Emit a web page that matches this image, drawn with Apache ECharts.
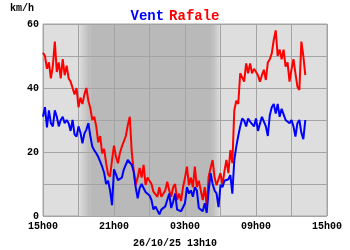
<!DOCTYPE html>
<html><head><meta charset="utf-8">
<script src="https://cdn.jsdelivr.net/npm/echarts@6/dist/echarts.min.js"></script>
<style>html,body{margin:0;padding:0;background:#fff}#c{width:350px;height:250px}</style>
</head><body><div id="c"></div>
<script>
// sampling: every 10 minutes starting 15h00 (minutes since 15h00)
const stepMinutes = 10;
const xTickLabels = ['15h00','21h00','03h00','09h00','15h00'];
const yTickLabels = ['0','20','40','60'];
const seriesNames = ['Vent','Rafale'];
const stamp = '26/10/25 13h10';
const nightBands = [[180, 240], [240, 855], [855, 900]]; // minutes since 15h00

const rafale = [51,50,46,48,43,47,54.5,45,48,43,49,44,47,43,42,40,38,40,34,37,
35,38,40,36,33.7,30,31,28,23,25,19.6,21,16.5,13,12.3,17.5,22,18.5,16.5,19.7,
21.7,22,25,28.4,31,20,14,9.7,12,15,12,16,9.7,12,12,10,7.6,8,6,9,
6,5.6,8,10.7,8,6,9,10,5,7,4.7,9,12,15.4,9.6,12,9,15.4,9,11,
8,5,9,3,12.3,15,17.5,12,9.6,9.7,13.4,9.6,14,17.5,13.4,20.6,16.5,33,36,35,
44.6,45,42,47.7,44.6,47.7,44.6,46,45.8,44,42,44,45.7,42.5,48,49,50.8,55,58,50,
52,49,52,46.7,48,42,45.8,49,44.6,40.4,39.4,54.5,50,44];

const vent = [31,34,27.7,33,29,28,33,31,28,30,31,29,30,29,26.6,30,25.5,24.8,28,26,
22.7,25.8,27,29,25,21.7,20.5,19.6,18.5,17,15.4,13.5,10,11,8,3.4,14.6,13,11.2,11.5,
12,14.6,15,17.5,17.2,16,13.8,9,5.5,8.7,10,10.5,7.5,7.3,6.4,5,2,3,2.4,0.5,
2,2.5,3,5,7,2.5,4.5,7,2,1.5,1.5,2,4,9,7,8,6,9,8,2.5,
3,1.5,4,1,8,13.4,10,8,7,2.8,9.7,9,11,10.5,11.5,12.8,7,17.5,21.7,25,
28,30.5,29.8,28,30.5,29.5,29,28,30.5,26.6,26,31,31.5,28,25,31.5,34,35,32,35,
31,33.5,33,30,30.5,29,30,28,24.8,29,30,26,24,30];

const toPairs = arr => arr.map((v, i) => [i * stepMinutes, v]);
const font = 'Liberation Mono, Courier New, monospace';
const LIGHT = '#dedede', DARK = '#b9b9b9';

const chart = echarts.init(document.getElementById('c'), null, {renderer: 'canvas'});
chart.setOption({
  animation: false,
  backgroundColor: '#ffffff',
  title: {
    left: 'center', top: 2,
    text: '{a|' + seriesNames[0] + '} {b|' + seriesNames[1] + '}',
    textStyle: {
      rich: {
        a: {color: '#0000ff', fontFamily: font, fontWeight: 'bold', fontSize: 14},
        b: {color: '#ff0000', fontFamily: font, fontWeight: 'bold', fontSize: 14}
      }
    }
  },
  graphic: [
    {type: 'text', left: 10, top: 3, style: {text: 'km/h', font: 'bold 10px ' + font, fill: '#000'}},
    {type: 'text', left: 'center', top: 238, style: {text: stamp, font: 'bold 10px ' + font, fill: '#000'}}
  ],
  grid: {left: 43, right: 23, top: 24, bottom: 34, show: true, backgroundColor: LIGHT, borderColor: '#a4a4a4', borderWidth: 1},
  xAxis: {
    type: 'value', min: 0, max: 1440, interval: 180, z: 2,
    axisLine: {show: false}, axisTick: {show: false},
    splitLine: {show: true, lineStyle: {color: '#a4a4a4', width: 1}},
    axisLabel: {
      margin: 5, color: '#000', fontFamily: font, fontWeight: 'bold', fontSize: 10,
      formatter: v => (v % 360 === 0 ? xTickLabels[v / 360] : '')
    }
  },
  yAxis: {
    type: 'value', min: 0, max: 60, interval: 10, z: 2,
    axisLine: {show: false}, axisTick: {show: false},
    splitLine: {show: true, lineStyle: {color: '#a4a4a4', width: 1}},
    axisLabel: {
      margin: 4, color: '#000', fontFamily: font, fontWeight: 'bold', fontSize: 10,
      formatter: v => (v % 20 === 0 ? yTickLabels[v / 20] : '')
    }
  },
  series: [
    {
      type: 'line', name: 'night', data: [], z: 1, silent: true,
      markArea: {
        silent: true,
        data: [
          [{xAxis: nightBands[0][0], itemStyle: {color: {type: 'linear', x: 0, y: 0, x2: 1, y2: 0, colorStops: [{offset: 0, color: LIGHT}, {offset: 1, color: DARK}]}}}, {xAxis: nightBands[0][1]}],
          [{xAxis: nightBands[1][0], itemStyle: {color: DARK}}, {xAxis: nightBands[1][1]}],
          [{xAxis: nightBands[2][0], itemStyle: {color: {type: 'linear', x: 0, y: 0, x2: 1, y2: 0, colorStops: [{offset: 0, color: DARK}, {offset: 1, color: LIGHT}]}}}, {xAxis: nightBands[2][1]}]
        ]
      }
    },
    {type: 'line', name: seriesNames[1], data: toPairs(rafale), z: 3, showSymbol: false, lineStyle: {color: '#ff0000', width: 2}, itemStyle: {color: '#ff0000'}},
    {type: 'line', name: seriesNames[0], data: toPairs(vent), z: 4, showSymbol: false, lineStyle: {color: '#0000ff', width: 2}, itemStyle: {color: '#0000ff'}}
  ]
});
</script></body></html>
